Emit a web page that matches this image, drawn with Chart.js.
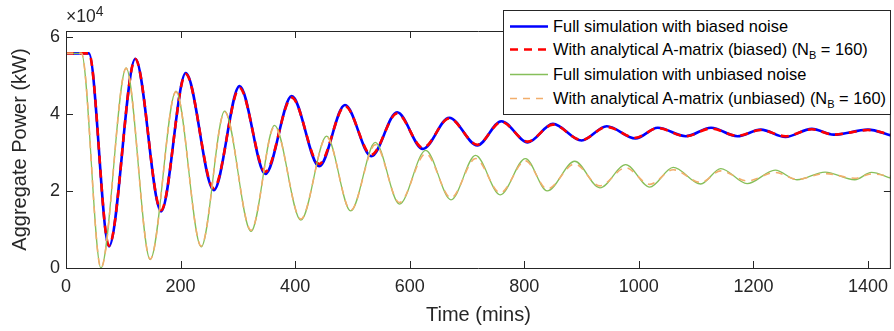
<!DOCTYPE html>
<html>
<head>
<meta charset="utf-8">
<title>Aggregate Power</title>
<script src="https://cdn.jsdelivr.net/npm/chart.js@4.4.1/dist/chart.umd.min.js"></script>
<style>
  html, body { margin: 0; padding: 0; background: #fff; overflow: hidden; }
  #wrap { position: relative; width: 896px; height: 331px; }
  #chart { position: absolute; left: 0; top: 0; }
  #exp { position: absolute; left: 66px; top: 6px; font: 17.5px 'Liberation Sans', Arial, sans-serif; color: #262626; }
  #exp sup { font-size: 14px; vertical-align: 6px; line-height: 0; }
  #legend {
    position: absolute; left: 503px; top: 10px; width: 386px; height: 103px;
    border: 1px solid #262626; background: #fff;
    font: 16.4px 'Liberation Sans', Arial, sans-serif; color: #000;
  }
  #legend .row { position: absolute; left: 0; height: 20px; line-height: 20px; white-space: nowrap; }
  #legend svg { position: absolute; left: 6px; top: 0; }
  #legend span { position: absolute; left: 49px; top: 0; }
  #legend sub { font-size: 11px; vertical-align: -4px; line-height: 0; }
</style>
</head>
<body>
<div id="wrap">
  <canvas id="chart" width="896" height="331"></canvas>
  <div id="exp">&times;10<sup>4</sup></div>
  <div id="legend"></div>
</div>
<script>
// Tiempos (min) y potencias (kW)
const biasedTimes = [0, 40, 75, 121, 166, 209, 258, 303, 348, 394, 442, 487, 533, 578, 623, 669, 718, 760, 806, 850, 900, 944, 994, 1033, 1082, 1126, 1172, 1213, 1256, 1302, 1340, 1400, 1440];
const fullBiased = [55700, 55700, 5600, 54300, 14700, 50600, 20200, 47200, 24400, 44600, 26400, 42300, 29000, 40400, 30900, 39000, 31800, 38100, 32600, 37400, 33100, 36800, 33600, 36400, 34200, 36400, 34200, 35900, 34000, 36100, 34600, 35900, 34400];
const analyticBiased = [55700, 55700, 5800, 54200, 15000, 50300, 20700, 46700, 25000, 44200, 27000, 42000, 29400, 40100, 31200, 38800, 32000, 37900, 32800, 37200, 33200, 36600, 33800, 36300, 34200, 36200, 34300, 35800, 34200, 36000, 34600, 35800, 34600];

const unbiasedTimes = [0, 27, 61, 105, 147, 192, 236, 277, 323, 364, 410, 455, 497, 540, 582, 628, 672, 715, 758, 802, 840, 888, 932, 977, 1019, 1060, 1108, 1143, 1189, 1238, 1276, 1325, 1377, 1406, 1440];
const fullUnbiased = [55700, 55700, 0, 51900, 2200, 45900, 5500, 40700, 9500, 37000, 12400, 34200, 14800, 32600, 16600, 30500, 17700, 29200, 19000, 28400, 20000, 27700, 20800, 26800, 21000, 26100, 21800, 25800, 21900, 25400, 22900, 24900, 22900, 24800, 23300];
const analyticUnbiased = [55700, 55700, 0, 51800, 2300, 45700, 5700, 40500, 9800, 36700, 12700, 34000, 15000, 32000, 17000, 29700, 18200, 28400, 19500, 27800, 20500, 27000, 21300, 26000, 21700, 25500, 22200, 25200, 22600, 24800, 23000, 24500, 23300, 24400, 23800];

const xTickValues = [0, 200, 400, 600, 800, 1000, 1200, 1400];
const yTickValues = [0, 20000, 40000, 60000];

const seriesLabels = [
  'Full simulation with biased noise',
  'With analytical A-matrix (biased) (N<sub>B</sub> = 160)',
  'Full simulation with unbiased noise',
  'With analytical A-matrix (unbiased) (N<sub>B</sub> = 160)'
];

const FONT = "'Liberation Sans', Arial, sans-serif";
const AXIS = '#262626';

function toPoints(times, values) {
  return times.map((t, i) => ({ x: t, y: values[i] }));
}

const datasets = [
  { data: toPoints(biasedTimes, fullBiased), borderColor: '#0000ff', borderWidth: 2.6, order: 4 },
  { data: toPoints(biasedTimes, analyticBiased), borderColor: '#ff0000', borderWidth: 2.6, borderDash: [8, 6], order: 3 },
  { data: toPoints(unbiasedTimes, fullUnbiased), borderColor: '#86bf5a', borderWidth: 1.3, order: 2 },
  { data: toPoints(unbiasedTimes, analyticUnbiased), borderColor: '#f2ae6c', borderWidth: 1.6, borderDash: [7, 6], order: 1 }
].map((d, i) => Object.assign({
  label: seriesLabels[i].replace(/<\/?sub>/g, ''),
  pointRadius: 0,
  fill: false,
  cubicInterpolationMode: 'monotone'
}, d));

// Caja de ejes con marcas hacia dentro (estilo MATLAB)
const boxPlugin = {
  id: 'box',
  afterDraw(chart) {
    const { ctx, chartArea: a, scales } = chart;
    const len = 7;
    ctx.save();
    ctx.strokeStyle = AXIS;
    ctx.lineWidth = 1;
    ctx.beginPath();
    ctx.rect(a.left + 0.5, a.top + 0.5, a.right - a.left - 1, a.bottom - a.top);
    xTickValues.forEach(v => {
      const x = Math.round(scales.x.getPixelForValue(v)) + 0.5;
      ctx.moveTo(x, a.bottom); ctx.lineTo(x, a.bottom - len);
      ctx.moveTo(x, a.top); ctx.lineTo(x, a.top + len);
    });
    yTickValues.forEach(v => {
      const y = Math.round(scales.y.getPixelForValue(v)) + 0.5;
      ctx.moveTo(a.left, y); ctx.lineTo(a.left + len, y);
      ctx.moveTo(a.right, y); ctx.lineTo(a.right - len, y);
    });
    ctx.stroke();
    ctx.restore();
  }
};

const chart = new Chart(document.getElementById('chart'), {
  type: 'line',
  data: { datasets },
  options: {
    responsive: false,
    animation: false,
    devicePixelRatio: 1,
    layout: { padding: { top: 31, left: 0, right: 0, bottom: 0 } },
    plugins: { legend: { display: false }, tooltip: { enabled: false } },
    scales: {
      x: {
        type: 'linear',
        min: 0,
        max: 1440,
        afterFit: s => { s.height = 63; },
        afterBuildTicks: s => { s.ticks = xTickValues.map(v => ({ value: v })); },
        grid: { display: false, drawTicks: false },
        border: { display: false },
        ticks: { color: AXIS, font: { family: FONT, size: 18 }, padding: 8, maxRotation: 0, autoSkip: false, callback: v => String(v) },
        title: { display: true, text: 'Time (mins)', color: AXIS, font: { family: FONT, size: 20 }, padding: { top: 0, bottom: 4 } }
      },
      y: {
        min: 0,
        max: 61500,
        afterFit: s => { s.width = 66; },
        afterBuildTicks: s => { s.ticks = yTickValues.map(v => ({ value: v })); },
        grid: { display: false, drawTicks: false },
        border: { display: false },
        ticks: { color: AXIS, font: { family: FONT, size: 18 }, padding: 6, callback: v => String(v / 10000) },
        title: { display: true, text: 'Aggregate Power (kW)', color: AXIS, font: { family: FONT, size: 20 }, padding: { top: 8, bottom: 0 } }
      }
    }
  },
  plugins: [boxPlugin]
});

// Leyenda HTML (para el subindice N_B)
const rowCenters = [15, 38, 63, 87];
const legend = document.getElementById('legend');
chart.data.datasets.forEach((ds, i) => {
  const row = document.createElement('div');
  row.className = 'row';
  row.style.top = (rowCenters[i] - 10) + 'px';
  const dash = ds.borderDash ? ds.borderDash.join(',') : 'none';
  row.innerHTML =
    `<svg width="42" height="20"><line x1="0" y1="10.5" x2="38" y2="10.5" stroke="${ds.borderColor}" ` +
    `stroke-width="${ds.borderWidth}" stroke-dasharray="${dash}"/></svg>` +
    `<span>${seriesLabels[i]}</span>`;
  legend.appendChild(row);
});
</script>
</body>
</html>
